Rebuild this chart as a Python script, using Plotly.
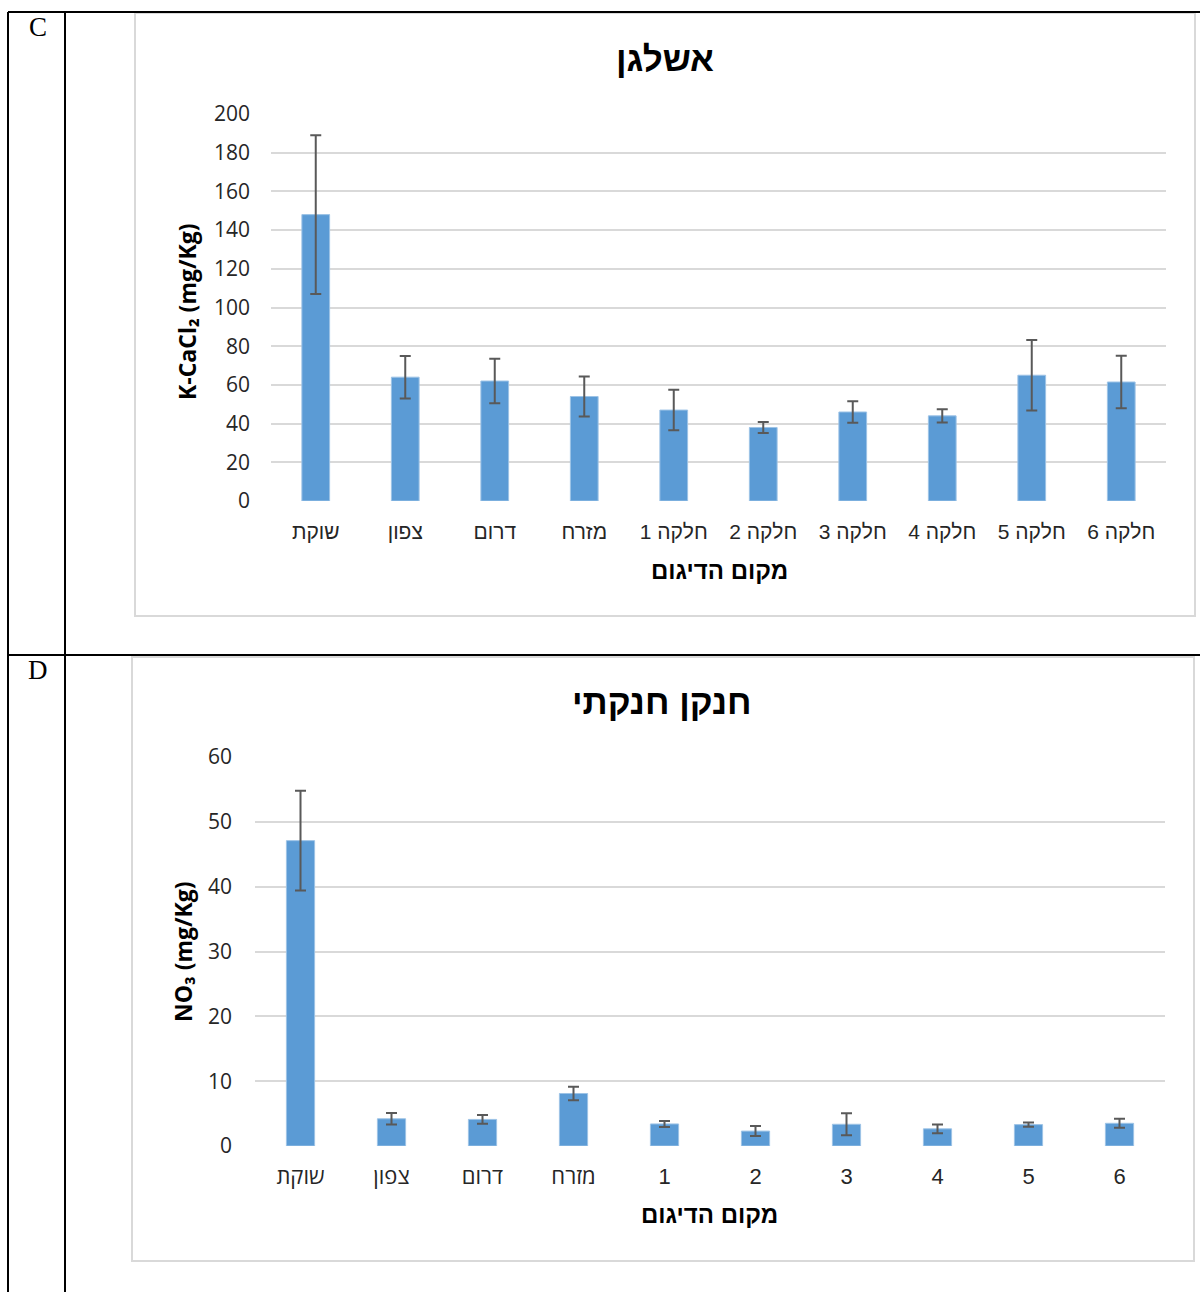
import plotly.graph_objects as go

W, H = 1200, 1292

# ---- data ----
sites_k = ["שוקת", "צפון", "דרום", "מזרח", "חלקה 1", "חלקה 2", "חלקה 3", "חלקה 4", "חלקה 5", "חלקה 6"]
potassium = [148, 64, 62, 54, 47, 38, 46, 44, 65, 61.5]
potassium_err = [41, 11, 11.5, 10.3, 10.5, 2.8, 5.5, 3.4, 18.2, 13.6]

sites_n = ["שוקת", "צפון", "דרום", "מזרח", "1", "2", "3", "4", "5", "6"]
nitrate = [47.1, 4.2, 4.1, 8.1, 3.4, 2.3, 3.35, 2.65, 3.3, 3.5]
nitrate_err = [7.7, 0.9, 0.67, 1.05, 0.46, 0.77, 1.7, 0.67, 0.33, 0.7]

y_ticks_k = [0, 20, 40, 60, 80, 100, 120, 140, 160, 180, 200]
y_ticks_n = [0, 10, 20, 30, 40, 50, 60]


def px(x):
    return x / W


def py(y):
    return 1 - y / H


BAR = "#5b9bd5"
GRID = "#d9d9d9"
ERR = "#595959"

fig = go.Figure()

fig.add_trace(go.Bar(
    x=sites_k, y=potassium, width=0.31,
    marker=dict(color=BAR, line=dict(color="#9dc3e6", width=1)),
    error_y=dict(type="data", array=potassium_err, visible=True,
                 color=ERR, thickness=2, width=5.5),
    xaxis="x", yaxis="y", showlegend=False,
))
fig.add_trace(go.Bar(
    x=sites_n, y=nitrate, width=0.31,
    marker=dict(color=BAR, line=dict(color="#9dc3e6", width=1)),
    error_y=dict(type="data", array=nitrate_err, visible=True,
                 color=ERR, thickness=2, width=5.5),
    xaxis="x2", yaxis="y2", showlegend=False,
))

# numeric category labels of the lower chart use an Arial-like face
tick_text_n = [s if not s.isdigit() else
               f'<span style="font-family:Liberation Sans, Arial, sans-serif">{s}</span>'
               for s in sites_n]

tick_font_y = dict(family="Open Sans, Liberation Sans, sans-serif", size=21, color="#262626")
tick_font_x = dict(family="Liberation Sans, Arial, sans-serif", size=21, color="#262626")
tick_font_x2 = dict(family="Open Sans, Liberation Sans, sans-serif", size=22, color="#262626")

fig.update_layout(
    width=W, height=H,
    margin=dict(l=0, r=0, t=0, b=0, pad=0, autoexpand=False),
    paper_bgcolor="white", plot_bgcolor="white",
    xaxis=dict(domain=[px(271), px(1166)], anchor="y", type="category",
               showgrid=False, showline=False, ticks="", tickfont=tick_font_x,
               ticklabelstandoff=16, zeroline=False, automargin=False),
    yaxis=dict(domain=[py(501), py(114)], anchor="x", range=[0, 200],
               tickvals=y_ticks_k, showgrid=True, gridcolor=GRID, gridwidth=1.6,
               zeroline=False, showline=False, ticks="", tickfont=tick_font_y,
               ticklabelstandoff=20, automargin=False),
    xaxis2=dict(domain=[px(255), px(1165)], anchor="y2", type="category",
                tickvals=sites_n, ticktext=tick_text_n,
                showgrid=False, showline=False, ticks="", tickfont=tick_font_x2,
                ticklabelstandoff=15, zeroline=False, automargin=False),
    yaxis2=dict(domain=[py(1146), py(757)], anchor="x2", range=[0, 60],
                tickvals=y_ticks_n, showgrid=True, gridcolor=GRID, gridwidth=1.6,
                zeroline=False, showline=False, ticks="", tickfont=tick_font_y,
                ticklabelstandoff=22, automargin=False),
)

shapes = []
# table rules
black = dict(color="black", width=2)
for (x0, y0, x1, y1) in [(8, 12, 1200, 12), (8, 655, 1200, 655),
                         (8, 12, 8, 1292), (65, 12, 65, 1292)]:
    shapes.append(dict(type="line", xref="paper", yref="paper",
                       x0=px(x0), y0=py(y0), x1=px(x1), y1=py(y1), line=black))
# chart frames
for (x0, y0, x1, y1) in [(135, 13, 1195, 616), (132, 657, 1194, 1261)]:
    shapes.append(dict(type="rect", xref="paper", yref="paper",
                       x0=px(x0), y0=py(y0), x1=px(x1), y1=py(y1),
                       line=dict(color=GRID, width=2), fillcolor="rgba(0,0,0,0)",
                       layer="below"))
fig.update_layout(shapes=shapes)

bold_he = "Liberation Sans, Arial, sans-serif"
ann = [
    dict(text="C", x=px(38), y=py(27), font=dict(family="Liberation Serif, Times New Roman, serif", size=27)),
    dict(text="D", x=px(38), y=py(670), font=dict(family="Liberation Serif, Times New Roman, serif", size=27)),
    dict(text="<b>אשלגן</b>", x=px(665), y=py(59), font=dict(family=bold_he, size=35)),
    dict(text="<b>חנקן חנקתי</b>", x=px(662), y=py(701), font=dict(family=bold_he, size=35)),
    dict(text="<b>מקום הדיגום</b>", x=px(719), y=py(570), font=dict(family=bold_he, size=24)),
    dict(text="<b>מקום הדיגום</b>", x=px(709), y=py(1214), font=dict(family=bold_he, size=24)),
    dict(text="<b>K-CaCl₂ (mg/Kg)</b>", x=px(187), y=py(312), textangle=-90,
         font=dict(family="Open Sans, sans-serif", size=23)),
    dict(text="<b>NO₃ (mg/Kg)</b>", x=px(183), y=py(952), textangle=-90,
         font=dict(family="Open Sans, sans-serif", size=23)),
]
for a in ann:
    a.update(xref="paper", yref="paper", showarrow=False, xanchor="center", yanchor="middle")
    a["font"].setdefault("color", "black")
fig.update_layout(annotations=ann)

fig.write_html("out.html")
